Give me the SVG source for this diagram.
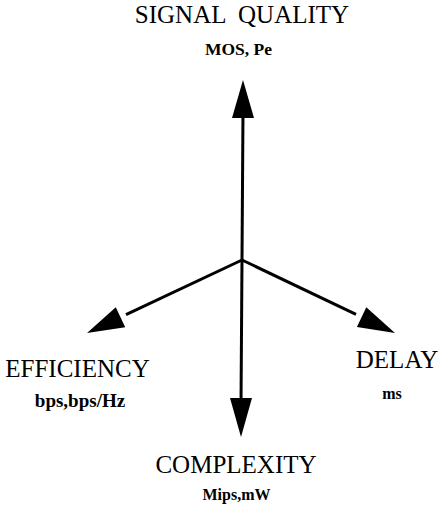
<svg xmlns="http://www.w3.org/2000/svg" width="441" height="514" viewBox="0 0 441 514">
<style>
.t{font-family:"Liberation Serif","Times New Roman",serif;font-size:25px;fill:#000;text-anchor:middle}
.u{font-family:"Liberation Serif","Times New Roman",serif;font-weight:bold;fill:#000;text-anchor:middle}
.ax{stroke:#000;stroke-width:3;fill:none;stroke-linecap:butt}
.hd{fill:#000;stroke:none}
</style>
<rect width="441" height="514" fill="#fff"/>
<g id="connectors">
<line class="ax" x1="243" y1="112" x2="242" y2="260"/>
<line class="ax" x1="242" y1="260" x2="241" y2="404"/>
<line class="ax" x1="242" y1="260" x2="126" y2="314.6"/>
<line class="ax" x1="242" y1="260" x2="356" y2="314.4"/>
<polygon class="hd" points="243,80 232,118 254,118"/>
<polygon class="hd" points="241,437 230,398 252,398"/>
<polygon class="hd" points="87,333 125.2,327.2 115.8,307.2"/>
<polygon class="hd" points="395,333 356.9,327 366.3,307.2"/>
</g>
<g id="signal-quality">
<text class="t" x="242" y="23" xml:space="preserve">SIGNAL  QUALITY</text>
<text class="u" x="238.5" y="55" font-size="17.5">MOS, Pe</text>
</g>
<g id="efficiency">
<text class="t" x="77.5" y="377">EFFICIENCY</text>
<text class="u" x="80" y="407" font-size="19">bps,bps/Hz</text>
</g>
<g id="delay">
<text class="t" x="397" y="368">DELAY</text>
<text class="u" x="392" y="399" font-size="16">ms</text>
</g>
<g id="complexity">
<text class="t" x="236" y="473">COMPLEXITY</text>
<text class="u" x="236.5" y="500" font-size="16">Mips,mW</text>
</g>
</svg>
